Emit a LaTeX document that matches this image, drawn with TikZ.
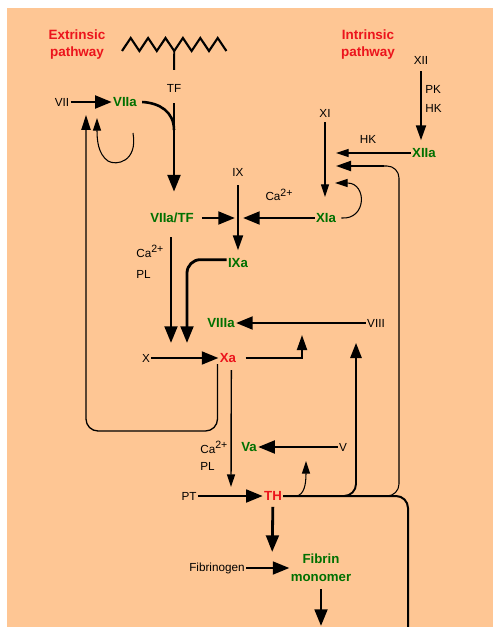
\documentclass[tikz,border=0pt]{standalone}
\usepackage{fontspec}
\setmainfont{Liberation Sans}
\usetikzlibrary{arrows.meta, positioning}
\definecolor{bgpeach}{RGB}{254,198,148}
\definecolor{actgreen}{RGB}{0,112,0}
\definecolor{keyred}{RGB}{236,20,28}
\newcommand{\caion}{Ca\raisebox{0.75ex}{\fontsize{9}{9}\selectfont 2+}}

\begin{document}
\begin{tikzpicture}[
  x=0.3mm, y=-0.3mm,
  flbl/.style={font=\fontsize{10}{12}\selectfont, inner sep=1pt},
  albl/.style={font=\fontsize{11.3}{15.5}\selectfont\bfseries, text=actgreen, inner sep=1pt, align=center},
  rlbl/.style={font=\fontsize{11.3}{13}\selectfont\bfseries, text=keyred, inner sep=1pt},
  ttl/.style={font=\fontsize{11.5}{14.5}\selectfont\bfseries, text=keyred, align=center},
  bigarr/.style={-{Triangle[length=5mm, width=3.8mm]}, line width=2.4pt},
  midarr/.style={-{Triangle[length=4.5mm, width=3mm]}, line width=1.7pt},
  thinarr/.style={-{Triangle[length=3.8mm, width=2.4mm]}, line width=0.9pt}
]
  \useasboundingbox (0,0) rectangle (493,627);
  \fill[bgpeach] (7,8) rectangle (493,627);

  \node[ttl] (extr) at (77,45) {Extrinsic\\pathway};
  \node[ttl] (intr) at (368,45) {Intrinsic\\pathway};
  \node[flbl] (TF) at (174,88) {TF};
  \node[flbl] (VII) at (62,102) {VII};
  \node[albl] (VIIa) at (125,102) {VIIa};
  \node[flbl] (XII) at (421,60) {XII};
  \node[flbl, anchor=west] (PK) at (424,89) {PK};
  \node[flbl, anchor=west] (HKa) at (424,108) {HK};
  \node[albl] (XIIa) at (424,153) {XIIa};
  \node[flbl] (HKb) at (368,139) {HK};
  \node[flbl] (XI) at (325,113) {XI};
  \node[flbl] (IX) at (238,172) {IX};
  \node[flbl] (caA) at (279,195) {\caion};
  \node[albl] (VIIaTF) at (172,218) {VIIa/TF};
  \node[albl] (XIa) at (326,218) {XIa};
  \node[flbl, align=left, anchor=west, font=\fontsize{10}{18}\selectfont] (caB) at (135,262) {\caion\\PL};
  \node[albl] (IXa) at (238,263) {IXa};
  \node[albl] (VIIIa) at (221,323) {VIIIa};
  \node[flbl] (VIII) at (376,323) {VIII};
  \node[flbl] (X) at (146,358) {X};
  \node[rlbl] (Xa) at (228,358) {Xa};
  \node[flbl, align=left, anchor=west, font=\fontsize{10}{15}\selectfont] (caC) at (199,456) {\caion\\PL};
  \node[albl] (Va) at (249,447) {Va};
  \node[flbl] (V) at (343,447) {V};
  \node[flbl] (PT) at (189,496) {PT};
  \node[rlbl] (TH) at (273,496) {TH};
  \node[flbl] (fbg) at (217,568) {Fibrinogen};
  \node[albl] (fbm) at (321,568) {Fibrin\\monomer};

  \coordinate (tfroot) at (174.2,51);
  \coordinate (viiaLoop) at (133,133);
  \coordinate (viiaIn) at (97,118);
  \coordinate (loopBot) at (86,431);
  \coordinate (viiIn) at (86,115);
  \coordinate (hkIn) at (336,153);
  \coordinate (xiaIn) at (335,183);
  \coordinate (fbTop) at (399,166);
  \coordinate (fbBend) at (384,166);
  \coordinate (fbIn) at (336,166);
  \coordinate (ixCross) at (238,218);
  \coordinate (xaInA) at (171,343);
  \coordinate (xaInB) at (187,343);
  \coordinate (viiiaUp) at (302,335);
  \coordinate (ptJoin) at (231,487);
  \coordinate (thBranchA) at (297,496);
  \coordinate (thBranchB) at (340,496);
  \coordinate (thBranchC) at (384,496);
  \coordinate (viiiUp) at (356,343);
  \coordinate (vaUp) at (306,461);
  \coordinate (thOut) at (408,627);
  \coordinate (fbgJoin) at (272,566);
  \coordinate (fbmOut) at (321,626);

  \draw[line width=1.8pt, line join=miter] (122,51) \foreach \i in {1,...,6} { -- ++(8.7,-13) -- ++(8.7,13) };
  \draw[line width=1.6pt, shorten >=3.8mm] (tfroot) -- (TF);
  \draw[bigarr, shorten <=3mm, shorten >=6mm] (TF) -- (TF |- VIIaTF.north);
  \draw[line width=2.2pt] ([xshift=1.2mm]VIIa.east) .. controls (160,103) and (174,112) .. (174,130);
  \draw[bigarr] (VII) -- (VIIa);
  \draw[thinarr] (viiaLoop) .. controls (138,162) and (116,166) .. (108,161) .. controls (98,154) and (97,140) .. (viiaIn);
  \draw[-{Triangle[length=4.5mm, width=2.8mm]}, line width=1.1pt, rounded corners=3.6mm] ([xshift=-0.3mm]Xa.south west) |- (loopBot) -- (viiIn);

  \draw[midarr, shorten <=1.8mm, shorten >=2mm] (XII) -- (XII |- XIIa.north);
  \draw[thinarr] (XIIa) -- (hkIn);
  \draw[thinarr, shorten <=1.2mm, shorten >=4.5mm] (XI) -- (XI |- XIa.north);
  \draw[thinarr] ([xshift=1.2mm]XIa.east) .. controls (367,220) and (367,183) .. (xiaIn);
  \draw[line width=0.9pt, rounded corners=3.6mm] (thBranchC) -| (fbTop) -- (fbBend);
  \draw[midarr] (fbBend) -- (fbIn);

  \draw[bigarr, shorten <=2mm, shorten >=0.9mm] (VIIaTF) -- (ixCross);
  \draw[bigarr, shorten >=1.5mm] (XIa) -- (ixCross);
  \draw[midarr, shorten <=2.4mm, shorten >=2mm] (IX) -- (IXa);
  \draw[bigarr, shorten <=3.9mm] (VIIaTF.south -| xaInA) -- (xaInA);
  \draw[bigarr, rounded corners=4mm] ([yshift=1mm]IXa.west) -| (xaInB);

  \draw[bigarr] (VIII) -- (VIIIa);
  \draw[bigarr] (X) -- (Xa);
  \draw[midarr, shorten <=2.4mm] (Xa.east) -| (viiiaUp);
  \draw[thinarr, line width=1.2pt, shorten <=1.8mm] ([xshift=1mm]Xa.south) -- (ptJoin);
  \draw[bigarr] (V) -- (Va);
  \draw[bigarr] (PT) -- (TH);

  \draw[line width=1.7pt, rounded corners=3.6mm] (TH.east) -| (thOut);
  \draw[-{Triangle[length=4.5mm, width=3.4mm]}, line width=1.6pt, rounded corners=3.6mm] (thBranchB) -| (viiiUp);
  \draw[thinarr] (thBranchA) .. controls (304,494) and (306,485) .. (vaUp);

  \draw[bigarr, shorten <=1.5mm, shorten >=4.2mm] (TH) -- (fbgJoin);
  \draw[bigarr] (fbg) -- (fbm.west |- fbg);
  \draw[bigarr, shorten <=1.8mm] (fbm) -- (fbmOut);
\end{tikzpicture}
\end{document}
